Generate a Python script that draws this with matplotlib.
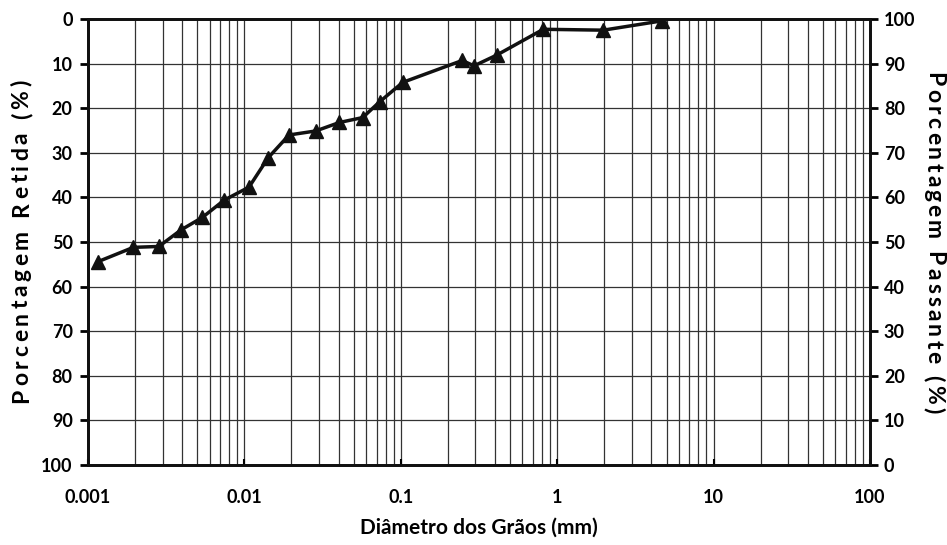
import numpy as np
import matplotlib
matplotlib.use('Agg')
import matplotlib.pyplot as plt
from matplotlib.ticker import FixedLocator, NullFormatter
from matplotlib.font_manager import FontProperties
from matplotlib.transforms import IdentityTransform

# grain size (mm) and percent retained
diametro = [0.00116, 0.00195, 0.00284, 0.00393, 0.00538, 0.00744, 0.0107, 0.0142,
            0.0193, 0.0286, 0.0405, 0.057, 0.0736, 0.103, 0.247, 0.294, 0.41,
            0.815, 1.97, 4.7]
retida = [54.4, 51.2, 51.0, 47.3, 44.5, 40.6, 37.7, 31.1, 26.0, 25.1, 23.2, 22.1,
          18.5, 14.2, 9.3, 10.5, 8.1, 2.3, 2.5, 0.4]

x_ticks = [0.001, 0.01, 0.1, 1, 10, 100]
x_labels = ['0.001', '0.01', '0.1', '1', '10', '100']
y_ticks = list(range(0, 101, 10))

plt.rcParams['font.family'] = ['Lato', 'DejaVu Sans']
plt.rcParams['font.weight'] = 'bold'

W, H = 947, 545
fig = plt.figure(figsize=(W / 100, H / 100), dpi=100)
ax = fig.add_axes([0.0929, 0.1468, 0.8258, 0.8183])

ax.set_xscale('log')
ax.set_xlim(0.001, 100)
ax.set_ylim(100, 0)

# grid lines
minors = [m * 10.0 ** e for e in range(-3, 2) for m in range(2, 10)]
for v in minors + x_ticks:
    ax.axvline(v, color='#333333', lw=0.9, zorder=1)
for v in y_ticks:
    ax.axhline(v, color='#333333', lw=0.9, zorder=1)

ax.plot(diametro, retida, color='#111111', lw=2.5, marker='^', ms=9.5,
        markeredgecolor='#111111', zorder=3)

ax.set_xticks(x_ticks)
ax.set_xticklabels(x_labels)
ax.xaxis.set_minor_locator(FixedLocator(minors))
ax.xaxis.set_minor_formatter(NullFormatter())
ax.tick_params(axis='x', which='major', direction='in', length=4, width=1.5,
               labelsize=13, pad=17)
ax.tick_params(axis='x', which='minor', length=0)
ax.set_yticks(y_ticks)
ax.tick_params(axis='y', direction='out', length=6, width=2, labelsize=13, pad=5)

for s in ax.spines.values():
    s.set_linewidth(2)
    s.set_color('#111111')

ax.set_xlabel('Diâmetro dos Grãos (mm)', fontsize=15, fontweight='bold', labelpad=9)

ax2 = ax.twinx()
ax2.set_ylim(0, 100)
ax2.set_yticks(y_ticks)
ax2.tick_params(axis='y', direction='out', length=6, width=2, labelsize=13, pad=4)
for s in ax2.spines.values():
    s.set_linewidth(2)
    s.set_color('#111111')

# vertical axis titles with wide letter spacing, placed char by char
fp = FontProperties(family=['Lato', 'DejaVu Sans'], weight='bold', size=16.5)
renderer = fig.canvas.get_renderer()


def width(s):
    return renderer.get_text_width_height_descent(s, fp, ismath=False)[0]


def tracked(text, x, y_start, y_end, rot):
    n = len(text)
    ref = width('I')
    offsets = [0.0] + [width(text[:i] + 'I') - ref for i in range(1, n)]
    natural = width(text)
    gap = (abs(y_end - y_start) - natural) / (n - 1)
    step = 1 if rot == 270 else -1  # 270 reads downwards, 90 upwards
    for i, c in enumerate(text):
        pos = y_start + step * (offsets[i] + i * gap)
        fig.text(x, H - pos, c, fontproperties=fp, rotation=rot,
                 rotation_mode='anchor', ha='left', va='baseline',
                 transform=IdentityTransform())


tracked('Porcentagem Retida (%)', 28, 403, 80, 90)
tracked('Porcentagem Passante (%)', 927, 72, 413, 270)

fig.savefig('out.png', dpi=100)
